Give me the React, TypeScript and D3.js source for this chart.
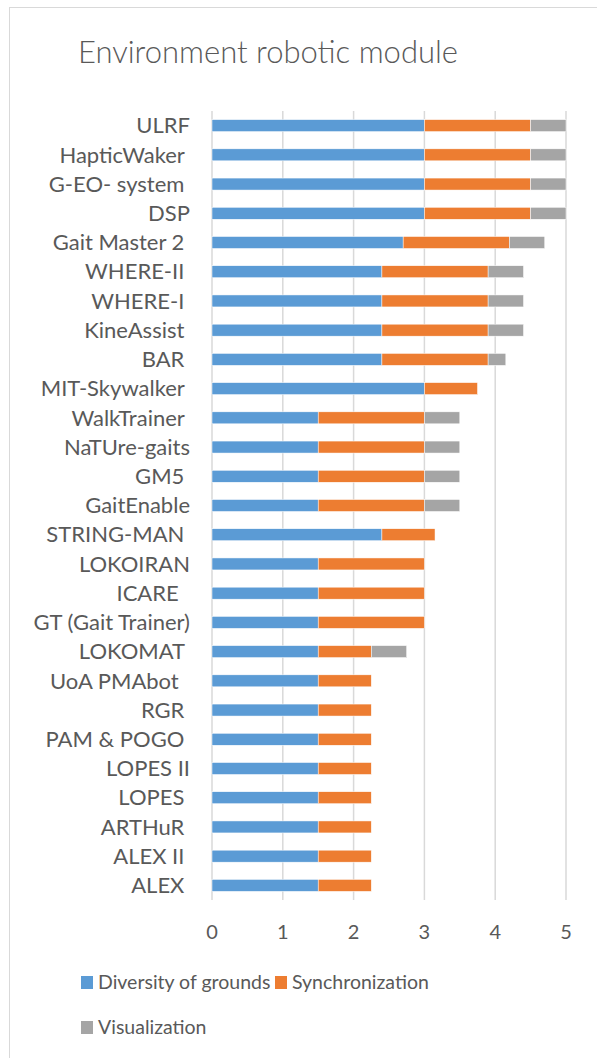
import React from "react";
import * as d3 from "d3";

const categories = [
  "ULRF", "HapticWaker ", "G-EO- system ", "DSP", "Gait Master 2 ", "WHERE-II ", "WHERE-I ",
  "KineAssist ", "BAR ", "MIT-Skywalker ", "WalkTrainer ", "NaTUre-gaits", "GM5 ", "GaitEnable",
  "STRING-MAN ", "LOKOIRAN", "ICARE  ", "GT (Gait Trainer)", "LOKOMAT ", "UoA PMAbot  ", "RGR ",
  "PAM & POGO ", "LOPES II", "LOPES ", "ARTHuR ", "ALEX II ", "ALEX ",
];
const diversity = [3, 3, 3, 3, 2.7, 2.4, 2.4, 2.4, 2.4, 3, 1.5, 1.5, 1.5, 1.5, 2.4, 1.5, 1.5, 1.5, 1.5, 1.5, 1.5, 1.5, 1.5, 1.5, 1.5, 1.5, 1.5];
const synchronization = [1.5, 1.5, 1.5, 1.5, 1.5, 1.5, 1.5, 1.5, 1.5, 0.75, 1.5, 1.5, 1.5, 1.5, 0.75, 1.5, 1.5, 1.5, 0.75, 0.75, 0.75, 0.75, 0.75, 0.75, 0.75, 0.75, 0.75];
const visualization = [0.5, 0.5, 0.5, 0.5, 0.5, 0.5, 0.5, 0.5, 0.25, 0, 0.5, 0.5, 0.5, 0.5, 0, 0, 0, 0, 0.5, 0, 0, 0, 0, 0, 0, 0, 0];
const seriesNames = ["Diversity of grounds", "Synchronization", "Visualization"];
const seriesColors = ["#5B9BD5", "#ED7D31", "#A5A5A5"];
const xTicks = [0, 1, 2, 3, 4, 5];

const FONT = "Lato, 'Open Sans', sans-serif";
const TEXT = "#595959";

export default function App() {
  const W = 597, H = 1058;
  const x = d3.scaleLinear().domain([0, 5]).range([212, 566]);
  const y = d3.scaleBand().domain(categories).range([111, 900]).paddingInner(0.59).paddingOuter(0.295);
  const rows = categories.map((c, i) => ({ c, d: diversity[i], s: synchronization[i], v: visualization[i] }));
  const stack = d3.stack<any>().keys(["d", "s", "v"])(rows);

  return (
    <svg width={W} height={H} style={{ position: "absolute", left: 0, top: 0, background: "#fff" }}>
      <rect x={0} y={0} width={W} height={H} fill="#fff" />
      <rect x={9.5} y={7.5} width={W + 20} height={H + 20} fill="none" stroke="#D9D9D9" strokeWidth={1} />
      <text x={268} y={63} textAnchor="middle" fontFamily={FONT} fontWeight={300} fontSize={31} fill={TEXT}>
        Environment robotic module
      </text>
      {xTicks.map((t) => (
        <line key={t} x1={x(t)} x2={x(t)} y1={111} y2={900} stroke="#D9D9D9" strokeWidth={1.5} />
      ))}
      {stack.map((layer, li) =>
        layer.map((seg, i) =>
          seg[1] - seg[0] > 0 ? (
            <rect
              key={`${li}-${i}`}
              x={x(seg[0])}
              y={y(categories[i])}
              width={x(seg[1]) - x(seg[0])}
              height={y.bandwidth()}
              fill={seriesColors[li]}
              stroke="#fff"
              strokeWidth={0.5}
            />
          ) : null
        )
      )}
      {categories.map((c) => (
        <text
          key={c}
          x={190}
          y={(y(c) as number) + y.bandwidth() / 2}
          dy="0.35em"
          textAnchor="end"
          fontFamily={FONT}
          fontSize={22}
          fill={TEXT}
          style={{ whiteSpace: "pre" }}
        >
          {c}
        </text>
      ))}
      {xTicks.map((t) => (
        <text key={t} x={x(t)} y={939} textAnchor="middle" fontFamily={FONT} fontSize={20} fill={TEXT}>
          {t}
        </text>
      ))}
      {[
        { i: 0, lx: 81, ly: 976 },
        { i: 1, lx: 275, ly: 976 },
        { i: 2, lx: 81, ly: 1021 },
      ].map(({ i, lx, ly }) => (
        <g key={i}>
          <rect x={lx} y={ly} width={12} height={13} fill={seriesColors[i]} />
          <text x={lx + 17} y={ly + 12.5} fontFamily={FONT} fontSize={19.5} fill={TEXT}>
            {seriesNames[i]}
          </text>
        </g>
      ))}
    </svg>
  );
}
